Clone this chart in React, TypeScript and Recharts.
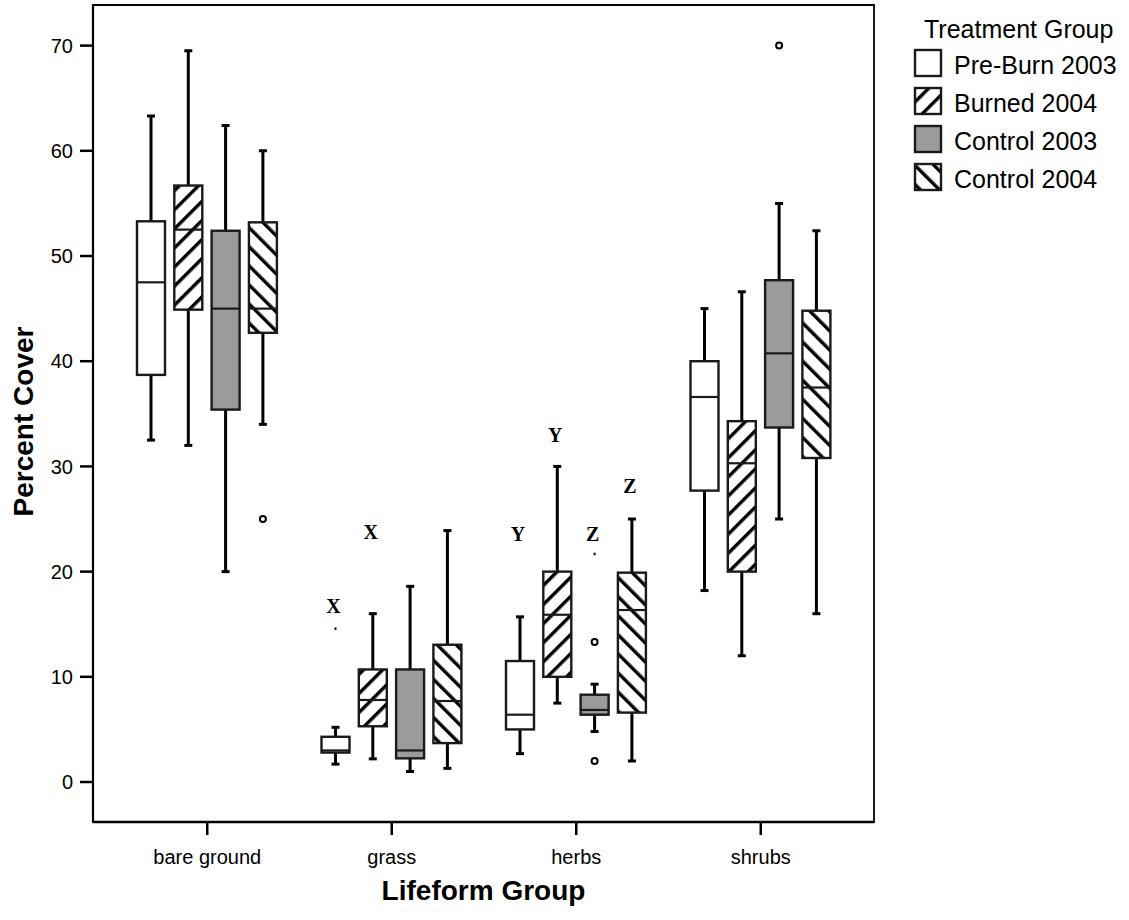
import React from 'react';
import { ComposedChart, Bar, XAxis, YAxis, ReferenceArea } from 'recharts';

// lifeform groups on the x axis
const categories = ['bare ground', 'grass', 'herbs', 'shrubs'];
const seriesNames = ['Pre-Burn 2003', 'Burned 2004', 'Control 2003', 'Control 2004'];
const yTicks = [0, 10, 20, 30, 40, 50, 60, 70];
const yDomain = [-3.8, 73.86];

// box stats per lifeform: [min, q1, median, q3, max]
const preBurn2003 = [[32.5, 38.7, 47.5, 53.3, 63.3], [1.7, 2.8, 3.0, 4.3, 5.2], [2.7, 5.0, 6.4, 11.5, 15.7], [18.2, 27.7, 36.6, 40.0, 45.0]];
const burned2004 = [[32.0, 44.9, 52.5, 56.7, 69.5], [2.2, 5.3, 7.8, 10.7, 16.0], [7.5, 10.0, 15.9, 20.0, 30.0], [12.0, 20.0, 30.3, 34.3, 46.6]];
const control2003 = [[20.0, 35.4, 45.0, 52.4, 62.4], [1.0, 2.25, 3.0, 10.7, 18.6], [4.8, 6.4, 6.85, 8.3, 9.3], [25.0, 33.7, 40.75, 47.7, 55.0]];
const control2004 = [[34.0, 42.7, 45.0, 53.2, 60.0], [1.3, 3.7, 7.7, 13.05, 23.9], [2.0, 6.6, 16.35, 19.9, 25.0], [16.0, 30.8, 37.5, 44.8, 52.4]];

// outliers (circles) and extremes (small marks)
const preBurnOutliers = [[], [], [], []];
const burnedOutliers = [[], [], [], []];
const control2003Outliers = [[], [], [13.3, 2.0], [70.0]];
const control2004Outliers = [[25.0], [], [], []];
const preBurnExtremes = [[], [14.6], [], []];
const control2003Extremes = [[], [], [21.7], []];

// significance letters and where they sit
const preBurnLetters = ['', 'X', 'Y', ''];
const preBurnLetterAt = [0, 16.7, 23.6, 0];
const burnedLetters = ['', 'X', 'Y', ''];
const burnedLetterAt = [0, 23.8, 33.0, 0];
const control2003Letters = ['', '', 'Z', ''];
const control2003LetterAt = [0, 0, 23.6, 0];
const control2004Letters = ['', '', 'Z', ''];
const control2004LetterAt = [0, 0, 28.1, 0];

const stats = [preBurn2003, burned2004, control2003, control2004];
const outliers = [preBurnOutliers, burnedOutliers, control2003Outliers, control2004Outliers];
const extremes = [preBurnExtremes, [[], [], [], []], control2003Extremes, [[], [], [], []]];
const letters = [preBurnLetters, burnedLetters, control2003Letters, control2004Letters];
const letterAt = [preBurnLetterAt, burnedLetterAt, control2003LetterAt, control2004LetterAt];

const fills = ['#ffffff', 'url(#hatchFwd)', '#9b9b9b', 'url(#hatchBack)'];
const legendFills = ['#ffffff', 'url(#lgHatchFwd)', '#9b9b9b', 'url(#lgHatchBack)'];

const data = categories.map((name, c) => {
  const row: any = { name };
  stats.forEach((s, i) => {
    row[`r${i}`] = [s[c][0], s[c][4]];
  });
  return row;
});

const font = '"Liberation Sans", Arial, sans-serif';

const Hatch = ({ id, angle }: { id: string; angle: number }) => (
  <pattern id={id} patternUnits="userSpaceOnUse" width={13.5} height={13.5} patternTransform={`rotate(${angle})`}>
    <rect width={13.5} height={13.5} fill="#fff" />
    <rect x={0} y={0} width={3.4} height={13.5} fill="#000" />
  </pattern>
);

const makeShape = (s: number) => (props: any) => {
  const { x, y, width, height, payload } = props;
  const c = props.index !== undefined ? props.index : categories.indexOf(payload.name);
  const [mn, q1, md, q3, mx] = stats[s][c];
  const top = Math.min(y, y + height);
  const bot = Math.max(y, y + height);
  const k = (bot - top) / (mx - mn);
  const py = (v: number) => top + (mx - v) * k;
  const cx = x + width / 2;
  return (
    <g>
      <line x1={cx} x2={cx} y1={py(mx)} y2={py(q3)} stroke="#000" strokeWidth={3} />
      <line x1={cx} x2={cx} y1={py(q1)} y2={py(mn)} stroke="#000" strokeWidth={3} />
      <line x1={cx - 4} x2={cx + 4} y1={py(mx)} y2={py(mx)} stroke="#000" strokeWidth={3} />
      <line x1={cx - 4} x2={cx + 4} y1={py(mn)} y2={py(mn)} stroke="#000" strokeWidth={3} />
      <rect x={x} y={py(q3)} width={width} height={py(q1) - py(q3)} fill={fills[s]} stroke="#1a1a1a" strokeWidth={2.4} />
      <line x1={x} x2={x + width} y1={py(md)} y2={py(md)} stroke="#1a1a1a" strokeWidth={2.2} />
      {outliers[s][c].map((v, j) => (
        <circle key={`o${j}`} cx={cx} cy={py(v)} r={3} fill="#fff" stroke="#000" strokeWidth={2} />
      ))}
      {extremes[s][c].map((v, j) => (
        <rect key={`e${j}`} x={cx - 1} y={py(v) - 1} width={2} height={2.5} fill="#000" />
      ))}
      {letters[s][c] ? (
        <text x={cx - 2} y={py(letterAt[s][c])} dy="0.35em" textAnchor="middle" fontFamily='"Liberation Serif", "Times New Roman", serif' fontWeight="bold" fontSize={20} fill="#000">
          {letters[s][c]}
        </text>
      ) : null}
    </g>
  );
};

const renderYTitle = (p: any) => {
  const vb = p.viewBox || { x: 33, y: 5, width: 60, height: 817 };
  const cy = vb.y + vb.height / 2 + 8;
  return (
    <text x={vb.x} y={cy} transform={`rotate(-90, ${vb.x}, ${cy})`} textAnchor="middle" fontFamily={font} fontWeight="bold" fontSize={28} fill="#000">
      Percent Cover
    </text>
  );
};

const renderXTitle = (p: any) => {
  const vb = p.viewBox || { x: 93, y: 822, width: 781, height: 30 };
  return (
    <text x={vb.x + vb.width / 2} y={vb.y + 78} textAnchor="middle" fontFamily={font} fontWeight="bold" fontSize={28} fill="#000">
      Lifeform Group
    </text>
  );
};

const LegendBox = () => (
  <svg width={229} height={200} style={{ position: 'absolute', left: 900, top: 0 }}>
    <defs>
      <Hatch id="lgHatchFwd" angle={45} />
      <Hatch id="lgHatchBack" angle={-45} />
    </defs>
    <text x={24} y={38} fontFamily={font} fontSize={25} fill="#000">Treatment Group</text>
    {seriesNames.map((n, i) => (
      <g key={n}>
        <rect x={15} y={50 + 38 * i} width={26} height={26} fill={legendFills[i]} stroke="#1a1a1a" strokeWidth={2.4} />
        <text x={54} y={74 + 38 * i} fontFamily={font} fontSize={25} fill="#000">{n}</text>
      </g>
    ))}
  </svg>
);

const App = () => {
  const tickStyle = { fill: '#000', fontSize: 20, fontFamily: font };
  const lineStyle = { stroke: '#000', strokeWidth: 2.5 };
  return (
    <div style={{ position: 'absolute', left: 0, top: 0, width: 1129, height: 920, background: '#fff' }}>
      <ComposedChart width={1129} height={920} data={data} margin={{ top: 5, right: 255, left: 33, bottom: 68 }} barGap={9.3}>
        <defs>
          <Hatch id="hatchFwd" angle={45} />
          <Hatch id="hatchBack" angle={-45} />
        </defs>
        <XAxis dataKey="name" padding={{ left: 22, right: 21 }} height={30} tickSize={13} tickMargin={15}
          axisLine={lineStyle} tickLine={lineStyle} tick={tickStyle} label={{ content: renderXTitle }} />
        <XAxis xAxisId="frame" type="number" hide />
        <YAxis type="number" domain={yDomain} allowDataOverflow ticks={yTicks} width={60} tickSize={13} tickMargin={7}
          axisLine={{ stroke: '#000', strokeWidth: 2.2 }} tickLine={lineStyle} tick={tickStyle} label={{ content: renderYTitle }} />
        <ReferenceArea xAxisId="frame" y1={yDomain[0]} y2={yDomain[1]} fill="none" fillOpacity={0}
          stroke="#000" strokeWidth={1.8} strokeOpacity={1} ifOverflow="visible" />
        {stats.map((_, i) => (
          <Bar key={i} dataKey={`r${i}`} barSize={28} isAnimationActive={false} shape={makeShape(i)} />
        ))}
      </ComposedChart>
      <LegendBox />
    </div>
  );
};

export default App;
